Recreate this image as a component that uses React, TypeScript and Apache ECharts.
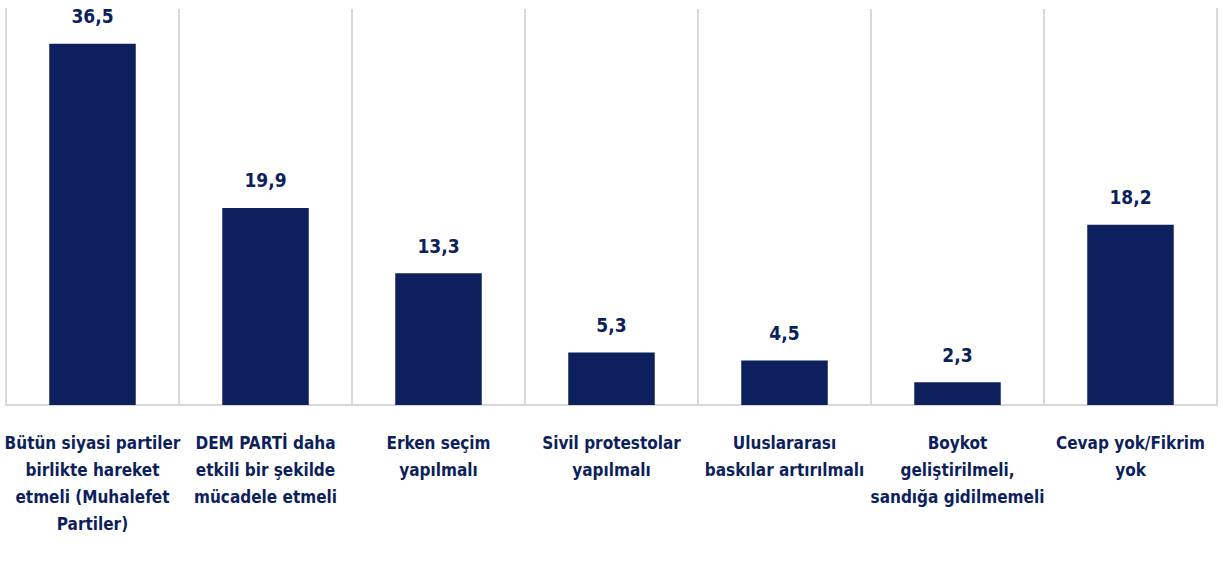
import React, { useEffect, useRef } from "react";
import * as echarts from "echarts";

const categories = [
  "Bütün siyasi partiler\nbirlikte hareket\netmeli (Muhalefet\nPartiler)",
  "DEM PARTİ daha\netkili bir şekilde\nmücadele etmeli",
  "Erken seçim\nyapılmalı",
  "Sivil protestolar\nyapılmalı",
  "Uluslararası\nbaskılar artırılmalı",
  "Boykot\ngeliştirilmeli,\nsandığa gidilmemeli",
  "Cevap yok/Fikrim\nyok",
];
const values = [36.5, 19.9, 13.3, 5.3, 4.5, 2.3, 18.2];

const NAVY = "#0D1F5C";
const FONT = "'DejaVu Sans Condensed', 'Open Sans', sans-serif";

export default function App() {
  const ref = useRef<HTMLDivElement>(null);
  useEffect(() => {
    if (!ref.current) return;
    const chart = echarts.init(ref.current, null, { renderer: "svg" });
    chart.setOption({
      animation: false,
      grid: { left: 6, right: 6, top: 9, bottom: 163, containLabel: false },
      xAxis: {
        type: "category",
        data: categories,
        axisLine: { show: true, lineStyle: { color: "#D9D9D9", width: 2 } },
        axisTick: { show: false },
        splitLine: { show: true, lineStyle: { color: "#D9D9D9", width: 2 } },
        axisLabel: {
          interval: 0,
          color: NAVY,
          fontFamily: FONT,
          fontWeight: "bold",
          fontSize: 17,
          lineHeight: 27,
          margin: 24,
        },
      },
      yAxis: [
        {
          type: "value",
          min: 0,
          max: 40,
          axisLine: { show: true, lineStyle: { color: "#D9D9D9", width: 2 } },
          axisLabel: { show: false },
          axisTick: { show: false },
          splitLine: { show: false },
        },
        {
          type: "value",
          min: 0,
          max: 40,
          position: "right",
          axisLine: { show: true, lineStyle: { color: "#D9D9D9", width: 2 } },
          axisLabel: { show: false },
          axisTick: { show: false },
          splitLine: { show: false },
        },
      ],
      series: [
        {
          type: "bar",
          data: values,
          barWidth: "50%",
          itemStyle: { color: NAVY },
          label: {
            show: true,
            position: "top",
            distance: 18,
            color: NAVY,
            fontFamily: FONT,
            fontWeight: "bold",
            fontSize: 19,
            formatter: (p: any) => String(p.value).replace(".", ","),
          },
        },
      ],
    });
    return () => chart.dispose();
  }, []);
  return (
    <div
      ref={ref}
      style={{ position: "fixed", left: 0, top: 0, width: 1223, height: 568, background: "#fff" }}
    />
  );
}
